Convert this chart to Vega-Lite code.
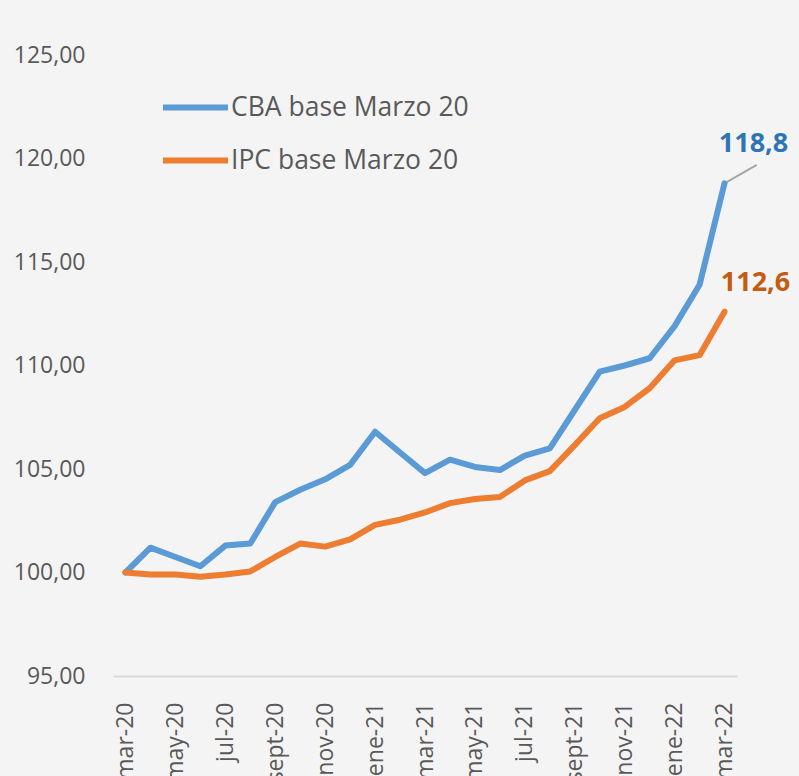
{
  "$schema": "https://vega.github.io/schema/vega-lite/v6.json",
  "width": 624,
  "height": 621,
  "autosize": {"type": "none"},
  "padding": {"left": 113, "top": 55, "right": 62, "bottom": 100},
  "background": "#f4f4f4",
  "config": {
    "view": {"stroke": null},
    "font": "Open Sans",
    "locale": {"number": {"decimal": ",", "thousands": ".", "grouping": [3], "currency": ["$", ""]}}
  },
  "data": {
    "values": [
      {"i": 0, "serie": "CBA base Marzo 20", "valor": 100.0},
      {"i": 1, "serie": "CBA base Marzo 20", "valor": 101.2},
      {"i": 2, "serie": "CBA base Marzo 20", "valor": 100.75},
      {"i": 3, "serie": "CBA base Marzo 20", "valor": 100.3},
      {"i": 4, "serie": "CBA base Marzo 20", "valor": 101.3},
      {"i": 5, "serie": "CBA base Marzo 20", "valor": 101.4},
      {"i": 6, "serie": "CBA base Marzo 20", "valor": 103.4},
      {"i": 7, "serie": "CBA base Marzo 20", "valor": 104.0},
      {"i": 8, "serie": "CBA base Marzo 20", "valor": 104.5},
      {"i": 9, "serie": "CBA base Marzo 20", "valor": 105.2},
      {"i": 10, "serie": "CBA base Marzo 20", "valor": 106.8},
      {"i": 11, "serie": "CBA base Marzo 20", "valor": 105.8},
      {"i": 12, "serie": "CBA base Marzo 20", "valor": 104.8},
      {"i": 13, "serie": "CBA base Marzo 20", "valor": 105.45},
      {"i": 14, "serie": "CBA base Marzo 20", "valor": 105.1},
      {"i": 15, "serie": "CBA base Marzo 20", "valor": 104.95},
      {"i": 16, "serie": "CBA base Marzo 20", "valor": 105.65},
      {"i": 17, "serie": "CBA base Marzo 20", "valor": 106.0},
      {"i": 18, "serie": "CBA base Marzo 20", "valor": 107.85},
      {"i": 19, "serie": "CBA base Marzo 20", "valor": 109.7},
      {"i": 20, "serie": "CBA base Marzo 20", "valor": 110.0},
      {"i": 21, "serie": "CBA base Marzo 20", "valor": 110.35},
      {"i": 22, "serie": "CBA base Marzo 20", "valor": 111.9},
      {"i": 23, "serie": "CBA base Marzo 20", "valor": 113.9},
      {"i": 24, "serie": "CBA base Marzo 20", "valor": 118.8},
      {"i": 0, "serie": "IPC base Marzo 20", "valor": 100.0},
      {"i": 1, "serie": "IPC base Marzo 20", "valor": 99.9},
      {"i": 2, "serie": "IPC base Marzo 20", "valor": 99.9},
      {"i": 3, "serie": "IPC base Marzo 20", "valor": 99.8},
      {"i": 4, "serie": "IPC base Marzo 20", "valor": 99.9},
      {"i": 5, "serie": "IPC base Marzo 20", "valor": 100.05},
      {"i": 6, "serie": "IPC base Marzo 20", "valor": 100.75},
      {"i": 7, "serie": "IPC base Marzo 20", "valor": 101.4},
      {"i": 8, "serie": "IPC base Marzo 20", "valor": 101.25},
      {"i": 9, "serie": "IPC base Marzo 20", "valor": 101.6},
      {"i": 10, "serie": "IPC base Marzo 20", "valor": 102.3},
      {"i": 11, "serie": "IPC base Marzo 20", "valor": 102.55},
      {"i": 12, "serie": "IPC base Marzo 20", "valor": 102.9},
      {"i": 13, "serie": "IPC base Marzo 20", "valor": 103.35},
      {"i": 14, "serie": "IPC base Marzo 20", "valor": 103.55},
      {"i": 15, "serie": "IPC base Marzo 20", "valor": 103.65},
      {"i": 16, "serie": "IPC base Marzo 20", "valor": 104.45},
      {"i": 17, "serie": "IPC base Marzo 20", "valor": 104.9},
      {"i": 18, "serie": "IPC base Marzo 20", "valor": 106.15},
      {"i": 19, "serie": "IPC base Marzo 20", "valor": 107.45},
      {"i": 20, "serie": "IPC base Marzo 20", "valor": 108.0},
      {"i": 21, "serie": "IPC base Marzo 20", "valor": 108.9},
      {"i": 22, "serie": "IPC base Marzo 20", "valor": 110.25},
      {"i": 23, "serie": "IPC base Marzo 20", "valor": 110.5},
      {"i": 24, "serie": "IPC base Marzo 20", "valor": 112.6}
    ]
  },
  "layer": [
    {
      "transform": [{"filter": "datum.serie == 'CBA base Marzo 20' && datum.i == 24"}],
      "mark": {"type": "rule", "color": "#a6a6a6", "strokeWidth": 2},
      "encoding": {
        "x": {"field": "i", "type": "quantitative"},
        "y": {"field": "valor", "type": "quantitative"},
        "x2": {"datum": 25.29},
        "y2": {"datum": 119.69}
      }
    },
    {
      "mark": {"type": "line", "strokeWidth": 6, "strokeCap": "round", "strokeJoin": "round"},
      "encoding": {
        "x": {
          "field": "i",
          "type": "quantitative",
          "scale": {"domain": [-0.5, 24.5], "nice": false, "zero": false},
          "axis": {
            "values": [0, 2, 4, 6, 8, 10, 12, 14, 16, 18, 20, 22, 24],
            "labelExpr": "['ene','feb','mar','abr','may','jun','jul','ago','sept','oct','nov','dic'][(datum.value + 2) % 12] + '-' + (20 + floor((datum.value + 2) / 12))",
            "labelAngle": -90,
            "labelAlign": "right",
            "labelBaseline": "middle",
            "labelFontSize": 23,
            "labelColor": "#595959",
            "labelPadding": 26,
            "labelBound": false,
            "labelOverlap": false,
            "labelFlush": false,
            "ticks": false,
            "tickSize": 0,
            "grid": false,
            "domainColor": "#d9d9d9",
            "domainWidth": 2,
            "title": null
          }
        },
        "y": {
          "field": "valor",
          "type": "quantitative",
          "scale": {"domain": [95, 125], "nice": false, "zero": false},
          "axis": {
            "values": [95, 100, 105, 110, 115, 120, 125],
            "format": ".2f",
            "domain": false,
            "ticks": false,
            "tickSize": 0,
            "grid": false,
            "labelPadding": 28,
            "labelFontSize": 23,
            "labelColor": "#595959",
            "labelFlush": false,
            "labelBound": false,
            "title": null
          }
        },
        "color": {
          "field": "serie",
          "type": "nominal",
          "scale": {"domain": ["CBA base Marzo 20", "IPC base Marzo 20"], "range": ["#5B9BD5", "#ED7D31"]},
          "legend": {
            "orient": "none",
            "legendX": 47,
            "legendY": 17,
            "title": null,
            "padding": 0,
            "symbolType": "stroke",
            "symbolSize": 4225,
            "symbolStrokeWidth": 6,
            "labelFontSize": 26.5,
            "labelColor": "#595959",
            "labelOffset": 0,
            "labelLimit": 400,
            "rowPadding": 4
          }
        }
      }
    },
    {
      "transform": [{"filter": "datum.serie == 'CBA base Marzo 20' && datum.i == 24"}],
      "mark": {"type": "text", "color": "#2E75B6", "fontSize": 27, "fontWeight": "bold", "align": "center", "baseline": "alphabetic", "dx": 29, "dy": -31},
      "encoding": {
        "x": {"field": "i", "type": "quantitative"},
        "y": {"field": "valor", "type": "quantitative"},
        "text": {"field": "valor", "type": "quantitative", "format": ".1f"}
      }
    },
    {
      "transform": [{"filter": "datum.serie == 'IPC base Marzo 20' && datum.i == 24"}],
      "mark": {"type": "text", "color": "#C55A11", "fontSize": 27, "fontWeight": "bold", "align": "center", "baseline": "alphabetic", "dx": 31, "dy": -21},
      "encoding": {
        "x": {"field": "i", "type": "quantitative"},
        "y": {"field": "valor", "type": "quantitative"},
        "text": {"field": "valor", "type": "quantitative", "format": ".1f"}
      }
    }
  ]
}
